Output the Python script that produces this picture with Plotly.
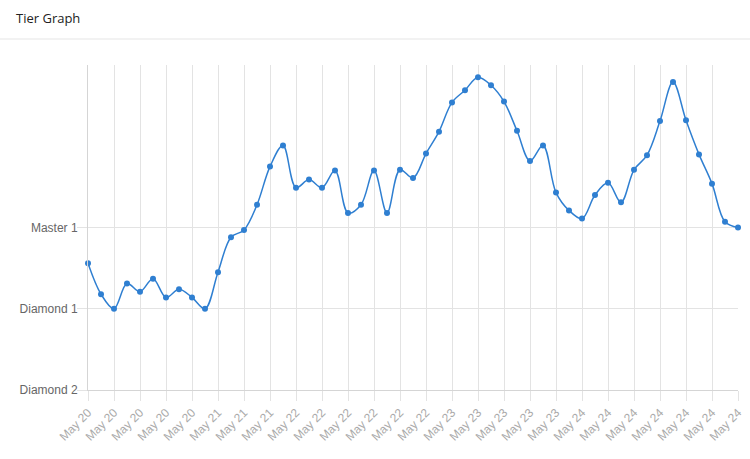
import plotly.graph_objects as go

# Data
dates = ["May 20"] * 10 + ["May 21"] * 6 + ["May 22"] * 12 + ["May 23"] * 10 + ["May 24"] * 13
tier_values = [
    1.56, 1.18, 1.00, 1.31, 1.21, 1.37, 1.14, 1.24, 1.14, 1.00,
    1.45, 1.88, 1.97, 2.28, 2.75, 3.01, 2.49, 2.59, 2.49, 2.70,
    2.18, 2.28, 2.70, 2.18, 2.71, 2.61, 2.91, 3.18, 3.54, 3.69,
    3.85, 3.75, 3.55, 3.19, 2.82, 3.01, 2.43, 2.21, 2.11, 2.40,
    2.55, 2.31, 2.71, 2.89, 3.31, 3.79, 3.32, 2.90, 2.54, 2.07,
    2.00,
]
tier_tick_vals = [0, 1, 2]
tier_tick_text = ["Diamond 2", "Diamond 1", "Master 1"]

x_idx = list(range(len(tier_values)))
x_tick_vals = x_idx[::2]
x_tick_text = [dates[i] for i in x_tick_vals]

W, H = 750, 459
L, R, T, B = 88, 12, 65, 69
pw, ph = W - L - R, H - T - B

fig = go.Figure()
fig.add_trace(go.Scatter(
    x=x_idx, y=tier_values, mode="lines+markers",
    line=dict(color="#2f7fd1", width=1.5, shape="spline", smoothing=1.0),
    marker=dict(color="#2f7fd1", size=6),
    cliponaxis=False, hoverinfo="skip",
))

fig.update_layout(
    width=W, height=H,
    margin=dict(l=L, r=R, t=T, b=B),
    paper_bgcolor="white", plot_bgcolor="white",
    showlegend=False,
    font=dict(family="Liberation Sans, Arial, sans-serif", size=12, color="#666"),
    xaxis=dict(
        range=[0, 50], tickvals=x_tick_vals, ticktext=x_tick_text,
        tickangle=-45, showgrid=True, gridcolor="#e3e3e3", gridwidth=1,
        ticks="outside", ticklen=10, tickcolor="#e3e3e3",
        showline=True, linecolor="#d5d5d5", zeroline=False,
        tickfont=dict(color="#aaaaaa", size=12), automargin=False,
    ),
    yaxis=dict(
        range=[0, 4], tickvals=tier_tick_vals, ticktext=tier_tick_text,
        showgrid=True, gridcolor="#e3e3e3", gridwidth=1,
        ticks="outside", ticklen=10, tickcolor="#e3e3e3",
        showline=True, linecolor="#d5d5d5", zeroline=False,
        tickfont=dict(color="#666666", size=12), automargin=False,
        ticklabelstandoff=-3,
    ),
    shapes=[dict(
        type="line", xref="paper", yref="paper",
        x0=-L / pw, x1=(W - L) / pw,
        y0=(H - B - 39) / ph, y1=(H - B - 39) / ph,
        line=dict(color="#e5e5e5", width=1),
    )],
    annotations=[dict(
        text="Tier Graph", xref="paper", yref="paper",
        x=(14 - L) / pw, y=(H - B - 18) / ph,
        xanchor="left", yanchor="middle", showarrow=False,
        font=dict(family="Open Sans, sans-serif", size=13, color="#222"),
    )],
)

fig.write_html(
    "out.html",
    config={"displayModeBar": False},
    post_script="document.body.style.margin='0';document.body.style.overflow='hidden';",
)
